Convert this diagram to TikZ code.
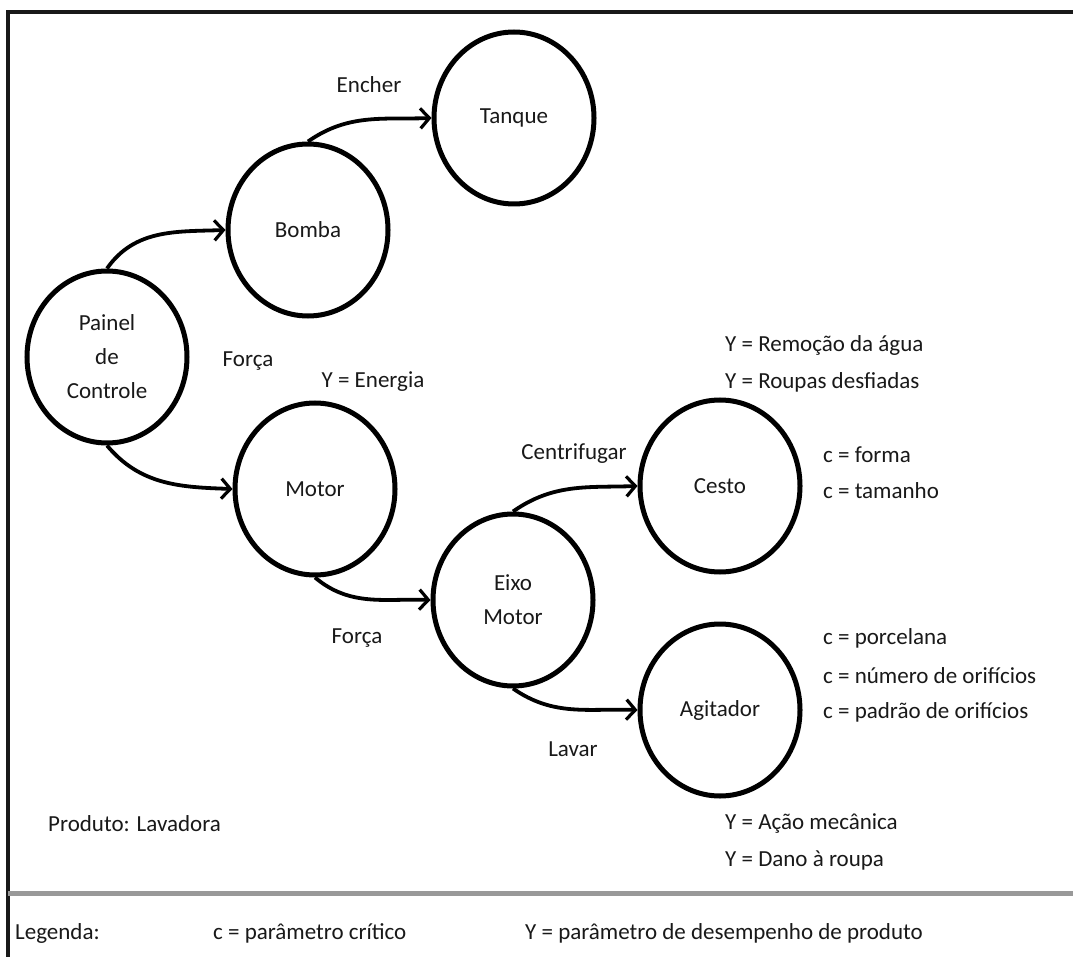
\documentclass[tikz,border=0pt]{standalone}
\usepackage{fontspec}
\setmainfont{Carlito}
\usetikzlibrary{shapes.geometric,arrows.meta}
\begin{document}
\begin{tikzpicture}[x=1pt,y=-1pt,
  every node/.style={font=\fontsize{23}{34}\selectfont, text=black!90},
  part/.style={ellipse, draw=black, line width=5pt, minimum width=160pt,
    minimum height=172pt, inner sep=0pt, align=center},
  flow/.style={line width=3.8pt, -{Straight Barb[length=9pt,width=20pt,line width=3.2pt]}},
  lbl/.style={inner sep=0pt},
  note/.style={inner sep=0pt, anchor=west}]
\useasboundingbox (0,0) rectangle (1073,957);
\fill[white] (0,0) rectangle (1073,957);

% frame and legend separator
\draw[line width=4pt, black!90] (8,957) -- (8,12) -- (1073,12);
\draw[line width=5pt, black!40] (8,893) -- (1073,893);

% parts
\node[part] (painel) at (107,357) {Painel\\de\\Controle};
\node[part] (bomba) at (308,230) {Bomba};
\node[part] (tanque) at (514,118) {Tanque};
\node[part] (motor) at (315,489) {Motor};
\node[part] (eixo) at (513,600) {Eixo\\Motor};
\node[part] (cesto) at (720,486) {Cesto};
\node[part] (agitador) at (720,710) {Agitador};

% flows
\draw[flow] (painel.north) to[out=55,in=182] (bomba.west);
\draw[flow] (bomba.north) to[out=35,in=182] (tanque.west);
\draw[flow] (painel.south) to[out=-50,in=178] (motor.west);
\draw[flow] (motor.south) to[out=-40,in=178] (eixo.west);
\draw[flow] (eixo.north) to[out=35,in=182] (cesto.west);
\draw[flow] (eixo.south) to[out=-35,in=178] (agitador.west);

% flow labels
\node[lbl] (encher) at (369,85) {Encher};
\node[lbl] (forca1) at (248,361) {Força};
\node[lbl] (energia) at (373,382) {Y = Energia};
\node[lbl] (forca2) at (357,638) {Força};
\node[lbl] (centrif) at (574,454) {Centrifugar};
\node[lbl] (lavar) at (573,749) {Lavar};

% parameters
\node[note] (y1) at (725,345) {Y = Remoção da água};
\node[note] (y2) at (725,382) {Y = Roupas desfiadas};
\node[note] (c1) at (823,455) {c = forma};
\node[note] (c2) at (823,491) {c = tamanho};
\node[note] (c3) at (823,638) {c = porcelana};
\node[note] (c4) at (823,676) {c = número de orifícios};
\node[note] (c5) at (823,712) {c = padrão de orifícios};
\node[note] (y3) at (725,824) {Y = Ação mecânica};
\node[note] (y4) at (725,860) {Y = Dano à roupa};
\node[note] (produto) at (48,824) {Produto: Lavadora};

% legend
\node[note] (legenda) at (15,933) {Legenda:};
\node[note] (legc) at (213,933) {c = parâmetro crítico};
\node[note] (legy) at (525,933) {Y = parâmetro de desempenho de produto};
\end{tikzpicture}
\end{document}
